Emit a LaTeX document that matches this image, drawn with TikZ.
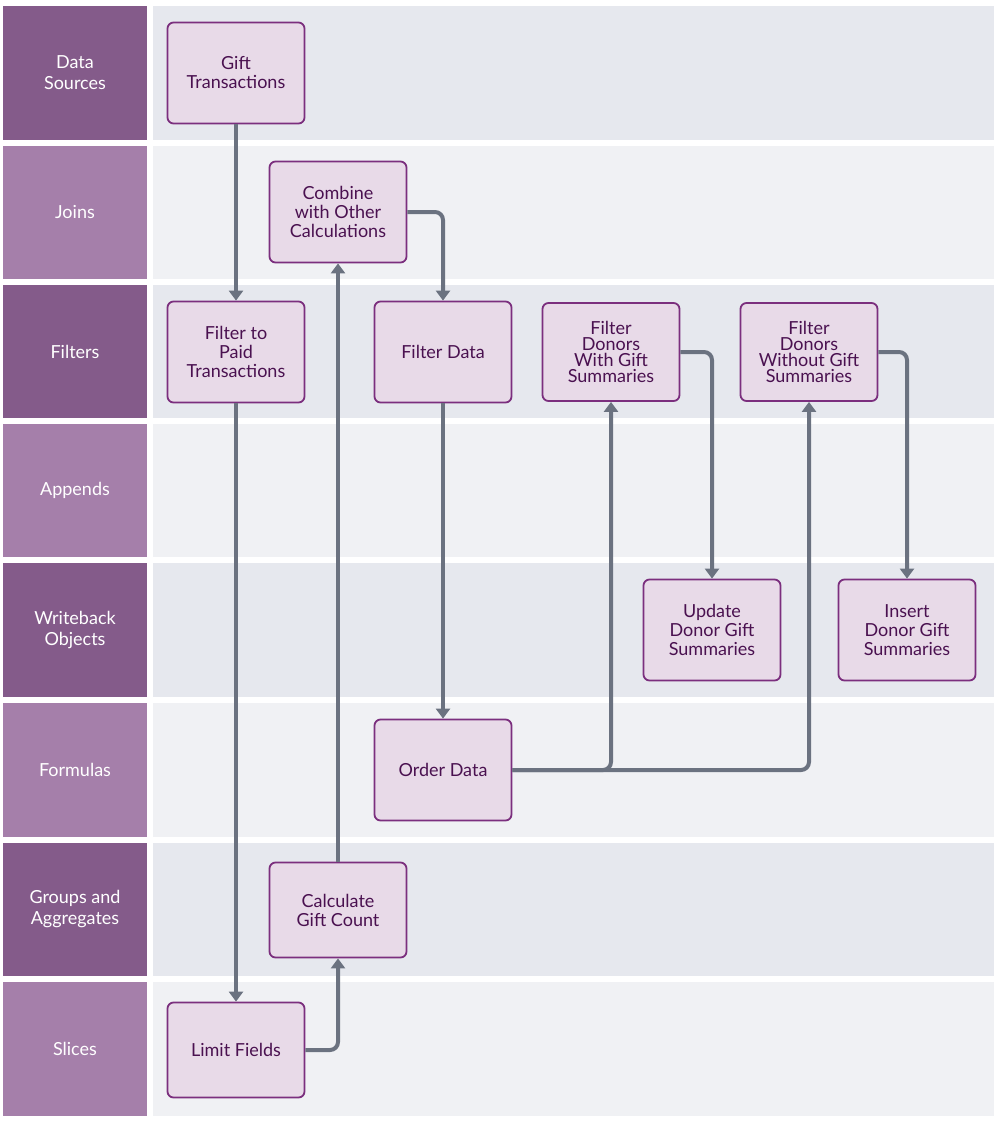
\documentclass[tikz,border=0pt]{standalone}
\usepackage{fontspec}
\setmainfont{Lato}
\usetikzlibrary{arrows.meta}
\definecolor{hdark}{HTML}{845B8A}
\definecolor{hlight}{HTML}{A57FAA}
\definecolor{bdark}{HTML}{E6E8EE}
\definecolor{blight}{HTML}{F0F1F4}
\definecolor{nfill}{HTML}{E8DAE8}
\definecolor{nline}{HTML}{7B2F7E}
\definecolor{ntext}{HTML}{4A1150}
\definecolor{edge}{HTML}{6B7280}
\begin{document}
\begin{tikzpicture}[x=1pt,y=-1pt,
  box/.style={draw=nline,fill=nfill,line width=1.8pt,rounded corners=6pt,minimum width=137pt,minimum height=101pt,align=center,text=ntext,font=\fontsize{18}{19}\selectfont,inner sep=2pt},
  hdr/.style={text=white,font=\fontsize{18}{21}\selectfont,align=center},
  conn/.style={draw=edge,line width=4pt,rounded corners=8pt,-{Triangle[length=10pt,width=14pt]}}]
\useasboundingbox (0,0) rectangle (1000,1122);
\fill[white] (0,0) rectangle (1000,1122);
\foreach \t/\b/\n [count=\i] in {6/140/Data\\Sources,146/279/Joins,285/418/Filters,424/557/Appends,563/697/Writeback\\Objects,703/837/Formulas,843/976/Groups and\\Aggregates,982/1116/Slices}{
  \pgfmathparse{mod(\i,2)==1?1:0}
  \ifnum\pgfmathresult=1
    \fill[hdark] (3,\t) rectangle (147,\b);
    \fill[bdark] (153,\t) rectangle (994,\b);
  \else
    \fill[hlight] (3,\t) rectangle (147,\b);
    \fill[blight] (153,\t) rectangle (994,\b);
  \fi
  \node[hdr] (h\i) at (75,{(\t+\b)/2}) {\n};
}
\node[box] (gift) at (236,73) {Gift\\Transactions};
\node[box] (comb) at (338,212) {Combine\\with Other\\Calculations};
\node[box] (paid) at (236,352) {Filter to\\Paid\\Transactions};
\node[box] (fdata) at (443,352) {Filter Data};
\node[box,minimum height=98pt] (fwith) at (611,352) {Filter\\[-3pt]Donors\\[-3pt]With Gift\\[-3pt]Summaries};
\node[box,minimum height=98pt] (fwo) at (809,352) {Filter\\[-3pt]Donors\\[-3pt]Without Gift\\[-3pt]Summaries};
\node[box] (upd) at (712,630) {Update\\Donor Gift\\Summaries};
\node[box] (ins) at (907,630) {Insert\\Donor Gift\\Summaries};
\node[box] (order) at (443,770) {Order Data};
\node[box,minimum height=95pt] (calc) at (338,910) {Calculate\\Gift Count};
\node[box,minimum height=95pt] (limit) at (236,1050) {Limit Fields};
\draw[conn] (gift) -- (paid);
\draw[conn] (paid) -- (limit);
\draw[conn] (limit.east) -| (calc.south);
\draw[conn] (calc) -- (comb);
\draw[conn] (comb.east) -| (fdata.north);
\draw[conn] (fdata) -- (order);
\draw[conn] (order.east) -| (fwith.south);
\draw[conn] (order.east) -| (fwo.south);
\draw[conn] (fwith.east) -| (upd.north);
\draw[conn] (fwo.east) -| (ins.north);
\end{tikzpicture}
\end{document}
